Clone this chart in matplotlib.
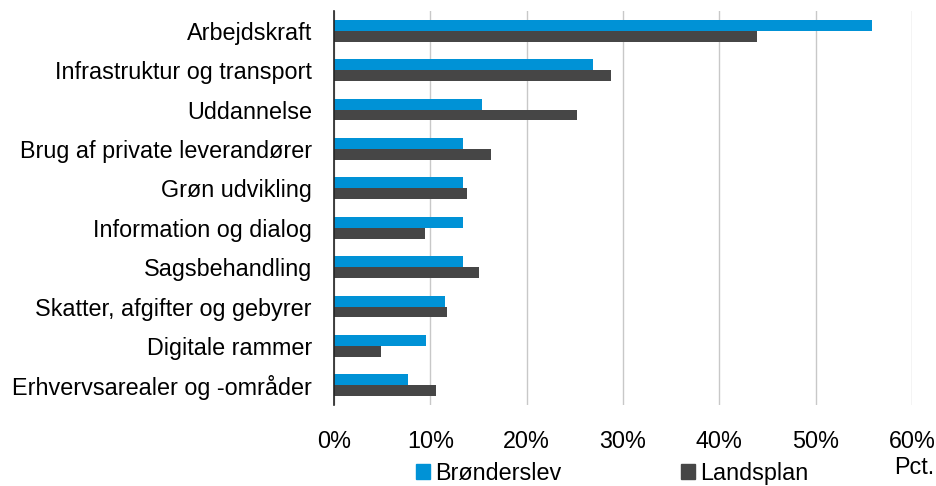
import matplotlib
matplotlib.use("Agg")
import matplotlib.pyplot as plt
import numpy as np
from matplotlib.patches import Patch

plt.rcParams['font.family'] = ['Liberation Sans', 'DejaVu Sans']

categories = ["Arbejdskraft", "Infrastruktur og transport", "Uddannelse",
              "Brug af private leverandører", "Grøn udvikling", "Information og dialog",
              "Sagsbehandling", "Skatter, afgifter og gebyrer", "Digitale rammer",
              "Erhvervsarealer og -områder"]
bronderslev = [55.8, 26.9, 15.4, 13.4, 13.4, 13.4, 13.4, 11.5, 9.6, 7.7]
landsplan = [43.9, 28.8, 25.2, 16.3, 13.8, 9.4, 15.0, 11.7, 4.9, 10.6]
xticks = [0, 10, 20, 30, 40, 50, 60]
xticklabels = ["0%", "10%", "20%", "30%", "40%", "50%", "60%"]

blue = "#0092d6"
dark = "#464646"
fs = 16.8

fig = plt.figure(figsize=(9.36, 4.86), dpi=100)
ax = fig.add_axes([334/936, 1-405/486, (912-334)/936, (405-11)/486])

y = np.arange(len(categories))
h = 0.275
ax.barh(y - h/2, bronderslev, height=h, color=blue, label="Brønderslev", zorder=3)
ax.barh(y + h/2, landsplan, height=h, color=dark, label="Landsplan", zorder=3)

ax.set_ylim(len(categories) - 0.5, -0.5)
ax.set_xlim(0, 60)
ax.set_yticks(y)
ax.set_yticklabels(categories, fontsize=fs, color="#000000")
ax.set_xticks(xticks)
ax.set_xticklabels(xticklabels, fontsize=fs)
ax.tick_params(axis='both', length=0)
ax.tick_params(axis='x', pad=18)
ax.tick_params(axis='y', pad=16)
ax.grid(axis='x', color="#c8c8c8", linewidth=1, zorder=0)
for s in ["top", "right", "bottom"]:
    ax.spines[s].set_visible(False)
ax.spines["left"].set_color("#222222")
ax.spines["left"].set_linewidth(1.2)
ax.spines["left"].set_zorder(4)

handles = [Patch(color=blue, label="Brønderslev"), Patch(color=dark, label="Landsplan")]
fig.legend(handles=handles, loc="center", bbox_to_anchor=(612/936, 1-473/486), ncol=2,
           frameon=False, fontsize=fs, handlelength=0.6, handleheight=0.6,
           handletextpad=0.2, columnspacing=5.15, borderpad=0, borderaxespad=0)
fig.text(914/936, 1-467/486, "Pct.", fontsize=fs, ha="center", va="center")

fig.savefig("out.png", dpi=100)
